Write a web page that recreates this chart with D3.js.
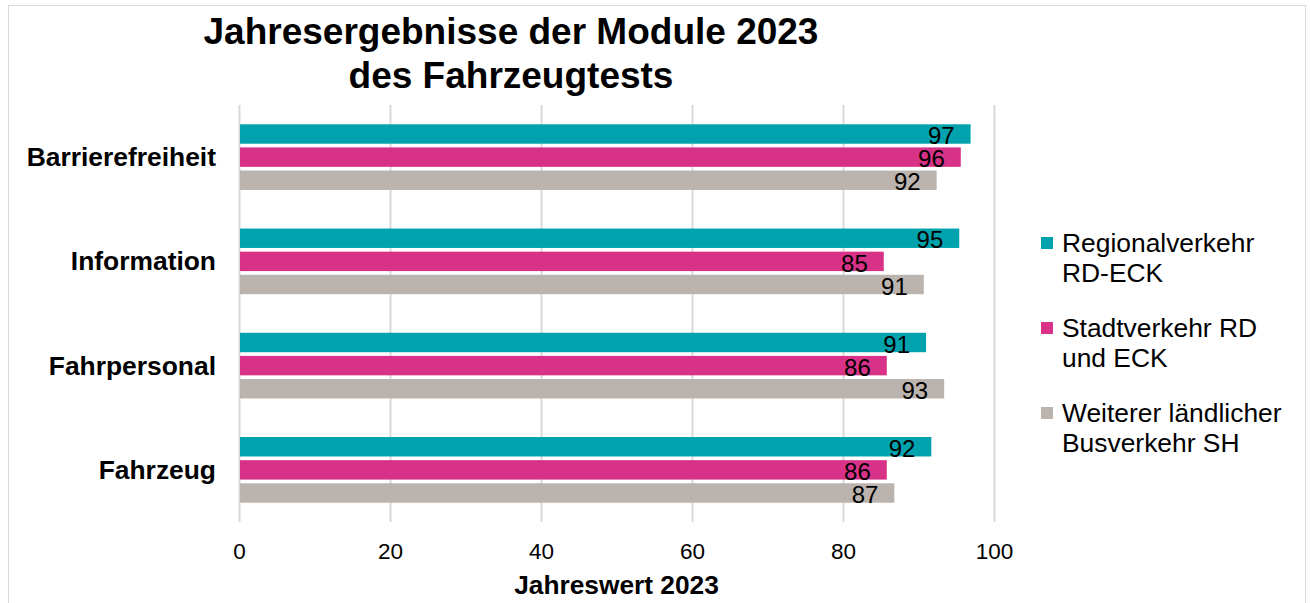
<!DOCTYPE html>
<html>
<head>
<meta charset="utf-8">
<script src="https://cdn.jsdelivr.net/npm/d3@7"></script>
<style>
  html, body { margin: 0; padding: 0; background: #fff; }
  svg { display: block; font-family: "Liberation Sans", Arial, sans-serif; }
</style>
</head>
<body>
<svg id="chart" width="1310" height="603"></svg>
<script>
const categories = ["Barrierefreiheit", "Information", "Fahrpersonal", "Fahrzeug"];
const seriesNames = ["Regionalverkehr RD-ECK", "Stadtverkehr RD und ECK", "Weiterer ländlicher Busverkehr SH"];
const legendLines = [["Regionalverkehr", "RD-ECK"], ["Stadtverkehr RD", "und ECK"], ["Weiterer ländlicher", "Busverkehr SH"]];
const regionalValues = [96.9, 95.4, 91.0, 91.7];
const stadtValues = [95.6, 85.4, 85.8, 85.8];
const laendlichValues = [92.4, 90.7, 93.4, 86.8];
const xTicks = [0, 20, 40, 60, 80, 100];
const colors = ["#00A3AD", "#D73288", "#BBB3AE"];
const titleLines = ["Jahresergebnisse der Module 2023", "des Fahrzeugtests"];
const xAxisTitle = "Jahreswert 2023";

const seriesValues = [regionalValues, stadtValues, laendlichValues];
const svg = d3.select("#chart");

// outer border
svg.append("rect").attr("x", 8.5).attr("y", 5.5).attr("width", 1297).attr("height", 610)
  .attr("fill", "#fff").attr("stroke", "#d9d9d9").attr("stroke-width", 1);

const plot = { left: 239, right: 994, top: 105, bottom: 522 };

const x = d3.scaleLinear().domain([0, 100]).range([plot.left, plot.right]);
const y0 = d3.scaleBand().domain(categories).range([plot.top, plot.bottom])
  .paddingInner(0.37).paddingOuter(0.185);
const y1 = d3.scaleBand().domain(seriesNames).range([0, y0.bandwidth()])
  .paddingInner(0.16).paddingOuter(0);

// gridlines
svg.append("g").selectAll("line").data(xTicks).join("line")
  .attr("x1", d => Math.round(x(d)) + 0.5).attr("x2", d => Math.round(x(d)) + 0.5)
  .attr("y1", plot.top).attr("y2", plot.bottom)
  .attr("stroke", "#d9d9d9").attr("stroke-width", 2);

// x axis labels
const xAxis = d3.axisBottom(x).tickValues(xTicks).tickSize(0).tickPadding(0);
const xg = svg.append("g").attr("transform", `translate(0,${plot.bottom})`).call(xAxis);
xg.select(".domain").remove();
xg.selectAll("text").attr("font-size", 22.5).attr("fill", "#000")
  .attr("dy", null).attr("y", 37);

// axis title
svg.append("text").attr("x", (plot.left + plot.right) / 2).attr("y", 594)
  .attr("text-anchor", "middle").attr("font-size", 26.3).attr("font-weight", "bold")
  .attr("fill", "#000").text(xAxisTitle);

// category labels
svg.append("g").selectAll("text").data(categories).join("text")
  .attr("x", 216).attr("y", d => y0(d) + y0.bandwidth() / 2 + 9)
  .attr("text-anchor", "end").attr("font-size", 26.4).attr("font-weight", "bold")
  .attr("fill", "#000").text(d => d);

// bars
const rows = [];
categories.forEach((c, i) => {
  seriesNames.forEach((s, j) => rows.push({ cat: c, ser: s, j: j, v: seriesValues[j][i] }));
});

const bars = svg.append("g");
bars.selectAll("rect").data(rows).join("rect")
  .attr("x", x(0) + 1)
  .attr("y", d => y0(d.cat) + y1(d.ser))
  .attr("width", d => x(d.v) - x(0) - 1)
  .attr("height", y1.bandwidth())
  .attr("fill", d => colors[d.j]);

bars.selectAll("text").data(rows).join("text")
  .attr("x", d => x(d.v) - 16)
  .attr("y", d => y0(d.cat) + y1(d.ser) + y1.bandwidth() + 0.5)
  .attr("text-anchor", "end").attr("font-size", 24).attr("fill", "#000")
  .text(d => Math.round(d.v));

// title
svg.append("g").selectAll("text").data(titleLines).join("text")
  .attr("x", 511).attr("y", (d, i) => 44 + i * 44)
  .attr("text-anchor", "middle").attr("font-size", 37).attr("font-weight", "bold")
  .attr("fill", "#000").text(d => d);

// legend
const legend = svg.append("g");
const lg = legend.selectAll("g").data(seriesNames).join("g")
  .attr("transform", (d, i) => `translate(1041,${252 + i * 85})`);
lg.append("rect").attr("x", 0).attr("y", -15).attr("width", 12).attr("height", 12)
  .attr("fill", (d, i) => colors[i]);
lg.each(function(d, i) {
  const t = d3.select(this).append("text").attr("x", 21).attr("y", 0)
    .attr("font-size", 26.4).attr("fill", "#000");
  legendLines[i].forEach((line, k) => {
    t.append("tspan").attr("x", 21).attr("dy", k === 0 ? 0 : 30).text(line);
  });
});
</script>
</body>
</html>
